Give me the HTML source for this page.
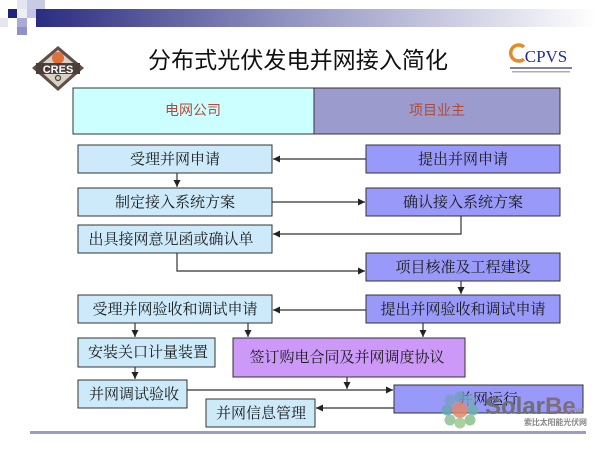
<!DOCTYPE html>
<html><head><meta charset="utf-8"><style>
html,body{margin:0;padding:0;background:#fff;}
svg{display:block;}
.bt{font-family:"Liberation Serif","Noto Serif CJK SC",serif;font-size:15px;fill:#1a1a1a;text-anchor:middle;}
.ln{stroke:#333;stroke-width:1.2;fill:none;}
</style></head><body>
<svg width="600" height="450" viewBox="0 0 600 450" xmlns="http://www.w3.org/2000/svg">
<defs>
<linearGradient id="bar" x1="0" x2="1" y1="0" y2="0">
<stop offset="0" stop-color="#2a2c80"/>
<stop offset="0.45" stop-color="#9193c0"/>
<stop offset="1" stop-color="#ffffff"/>
</linearGradient>
<marker id="ar" markerWidth="8" markerHeight="8" refX="7" refY="3.5" orient="auto" markerUnits="userSpaceOnUse">
<path d="M0,0 L7,3.5 L0,7 z" fill="#222"/>
</marker>
</defs>
<rect width="600" height="450" fill="#fff"/>
<!-- top decoration -->
<rect x="36" y="9" width="560" height="18" fill="url(#bar)"/>
<rect x="27" y="0" width="18" height="9" fill="#c9cae6"/>
<rect x="17" y="0" width="10" height="9" fill="#e4e4f2"/>
<rect x="8" y="9" width="9" height="9" fill="#1f2280"/>
<rect x="27" y="9" width="9" height="9" fill="#c4c5e4"/>
<rect x="17" y="9" width="10" height="9" fill="#eeeef7"/>
<rect x="0" y="18" width="8" height="9" fill="#e6e6f0"/>
<rect x="17" y="18" width="10" height="9" fill="#a9abd6"/>
<rect x="17" y="27" width="10" height="8" fill="#8f92c8"/>
<!-- CRES logo -->
<polygon points="58,46 84,68 58,91 32,68" fill="#5e5048"/>
<polygon points="58,50 79,68 58,87 37,68" fill="#d9d0c6"/>
<circle cx="58" cy="58" r="6" fill="#e0703a"/>
<rect x="36" y="63" width="44" height="11" fill="#4a3e38"/>
<text x="58" y="73" font-family="Liberation Sans,sans-serif" font-weight="bold" font-size="11" fill="#ffffff" text-anchor="middle">CRES</text>
<circle cx="58" cy="78" r="2.5" fill="none" stroke="#4a3e38" stroke-width="1.2"/>
<!-- title -->
<text x="298" y="68" font-family="Liberation Sans,'Noto Sans CJK SC',sans-serif" font-size="23" fill="#111" text-anchor="middle" textLength="300">分布式光伏发电并网接入简化</text>
<!-- CPVS logo -->
<path d="M524,47 A8,8 0 1 0 524,59" fill="none" stroke="#e48a28" stroke-width="3.5"/>
<text x="546" y="62" font-family="Liberation Serif,serif" font-size="17" fill="#22308c" text-anchor="middle">CPVS</text>
<rect x="510" y="67" width="62" height="2" fill="#4a4a6a" opacity="0.7"/>
<rect x="512" y="71" width="58" height="1.5" fill="#777" opacity="0.6"/>
<!-- header -->
<rect x="73" y="88" width="241" height="46" fill="#ccffff" stroke="#333" stroke-width="1"/>
<rect x="314" y="88" width="246" height="46" fill="#9b9bcd" stroke="#333" stroke-width="1"/>
<text x="193" y="115" font-family="Liberation Sans,'Noto Sans CJK SC',sans-serif" font-size="14" fill="#b24a3a" text-anchor="middle">电网公司</text>
<text x="437" y="115" font-family="Liberation Sans,'Noto Sans CJK SC',sans-serif" font-size="14" fill="#b24a3a" text-anchor="middle">项目业主</text>
<!-- boxes left -->
<g stroke="#333" stroke-width="1">
<rect x="78" y="145" width="194" height="28" fill="#cceaf9"/>
<rect x="78" y="188" width="194" height="28" fill="#cceaf9"/>
<rect x="78" y="225" width="194" height="28" fill="#cceaf9"/>
<rect x="78" y="295" width="194" height="28" fill="#cceaf9"/>
<rect x="78" y="338" width="137" height="29" fill="#cceaf9"/>
<rect x="78" y="380" width="109" height="28" fill="#cceaf9"/>
<rect x="206" y="399" width="109" height="28" fill="#cceaf9"/>
<!-- right -->
<rect x="366" y="145" width="194" height="28" fill="#9999fa"/>
<rect x="366" y="188" width="194" height="28" fill="#9999fa"/>
<rect x="366" y="253" width="194" height="28" fill="#9999fa"/>
<rect x="366" y="295" width="194" height="28" fill="#9999fa"/>
<rect x="394" y="385" width="189" height="28" fill="#9999fa"/>
<!-- purple -->
<rect x="233" y="338" width="232" height="39" fill="#cc99f8"/>
</g>
<!-- texts -->
<text class="bt" x="175" y="164">受理并网申请</text>
<text class="bt" x="175" y="207">制定接入系统方案</text>
<text class="bt" x="171" y="244">出具接网意见函或确认单</text>
<text class="bt" x="175" y="314">受理并网验收和调试申请</text>
<text class="bt" x="148" y="357">安装关口计量装置</text>
<text class="bt" x="134" y="399">并网调试验收</text>
<text class="bt" x="261" y="418">并网信息管理</text>
<text class="bt" x="463" y="164">提出并网申请</text>
<text class="bt" x="463" y="207">确认接入系统方案</text>
<text class="bt" x="463" y="272">项目核准及工程建设</text>
<text class="bt" x="463" y="314">提出并网验收和调试申请</text>
<text class="bt" x="347" y="362">签订购电合同及并网调度协议</text>
<text class="bt" x="488" y="404">并网运行</text>
<!-- connectors -->
<line class="ln" x1="366" y1="159" x2="273" y2="159" marker-end="url(#ar)"/>
<line class="ln" x1="177" y1="173" x2="177" y2="187" marker-end="url(#ar)"/>
<line class="ln" x1="272" y1="202" x2="365" y2="202" marker-end="url(#ar)"/>
<polyline class="ln" points="461,216 461,234 273,234" marker-end="url(#ar)"/>
<polyline class="ln" points="177,253 177,271 365,271" marker-end="url(#ar)"/>
<line class="ln" x1="461" y1="281" x2="461" y2="294" marker-end="url(#ar)"/>
<line class="ln" x1="366" y1="310" x2="273" y2="310" marker-end="url(#ar)"/>
<line class="ln" x1="135" y1="323" x2="135" y2="337" marker-end="url(#ar)"/>
<line class="ln" x1="248" y1="323" x2="248" y2="337" marker-end="url(#ar)"/>
<line class="ln" x1="423" y1="323" x2="423" y2="337" marker-end="url(#ar)"/>
<line class="ln" x1="135" y1="367" x2="135" y2="379" marker-end="url(#ar)"/>
<line class="ln" x1="187" y1="390" x2="393" y2="390" marker-end="url(#ar)"/>
<line class="ln" x1="347" y1="377" x2="347" y2="389" marker-end="url(#ar)"/>
<line class="ln" x1="394" y1="408" x2="316" y2="408" marker-end="url(#ar)"/>
<!-- bottom line -->
<rect x="30" y="431" width="556" height="3" fill="#9c9ccc"/>
<!-- watermark -->
<g opacity="0.85">
<circle cx="460" cy="397" r="5.5" fill="#6f9fc0"/>
<circle cx="470" cy="400" r="5.5" fill="#7aa7c8"/>
<circle cx="473" cy="410" r="5.5" fill="#6fb0b0"/>
<circle cx="470" cy="420" r="5.5" fill="#8cc08c"/>
<circle cx="460" cy="423" r="5.5" fill="#9cc890"/>
<circle cx="450" cy="420" r="5.5" fill="#8cc09a"/>
<circle cx="447" cy="410" r="5.5" fill="#6aa8b0"/>
<circle cx="450" cy="400" r="5.5" fill="#7aa0c4"/>
<circle cx="460" cy="410" r="8" fill="#e08a6a"/>
</g>
<text x="485" y="414" font-family="Liberation Sans,sans-serif" font-size="24" font-weight="bold" fill="#6e6e76">Solar<tspan fill="#7e6e7a">Be</tspan></text>
<text x="567" y="413" font-family="Liberation Sans,sans-serif" font-size="8" fill="#888">.com</text>
<text x="524" y="425" font-family="Liberation Sans,'Noto Sans CJK SC',sans-serif" font-size="8" font-weight="bold" fill="#888" textLength="63">索比太阳能光伏网</text>
</svg>
</body></html>
